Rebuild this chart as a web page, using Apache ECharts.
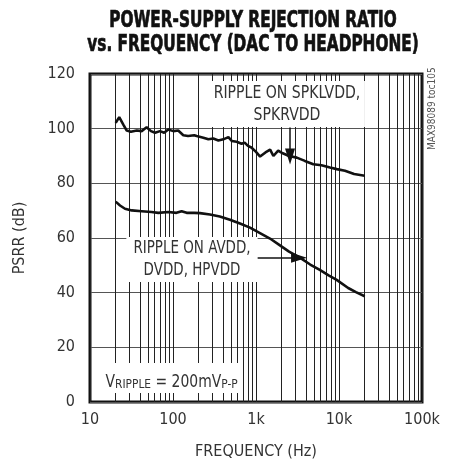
<!DOCTYPE html>
<html>
<head>
<meta charset="utf-8">
<script src="https://cdn.jsdelivr.net/npm/echarts@6/dist/echarts.min.js"></script>
<style>
  html, body { margin: 0; padding: 0; background: #fff; }
  #chart { width: 453px; height: 465px; }
</style>
</head>
<body>
<div id="chart"></div>
<script>
// PSRR vs frequency, two supply groups
const spkFreq = [20.4, 22.5, 25.2, 27.7, 31.1, 36.6, 41.9, 48.1, 54.3, 60.8, 69.7, 78.3, 87.7, 101, 115.6, 133, 152, 180, 193, 232, 267, 306, 352, 404, 465, 510, 585, 670, 730, 800, 880, 1000, 1120, 1300, 1480, 1620, 1850, 2100, 2500, 3100, 3880, 4900, 6150, 7790, 9400, 11800, 15200, 20400];
const spkPsrr = [102.1, 104.2, 101.5, 99.3, 98.9, 99.3, 99.1, 100.5, 99.1, 98.5, 99.1, 98.5, 99.7, 99.1, 99.3, 97.6, 97.3, 97.6, 97.3, 96.7, 96.1, 96.4, 95.7, 96.1, 96.9, 95.5, 95.2, 94.5, 94.9, 93.7, 93.1, 91.5, 89.8, 91.3, 92.3, 90.0, 92.0, 91.0, 90.0, 89.4, 88.2, 87.0, 86.6, 85.8, 85.2, 84.6, 83.4, 82.8];

const avddFreq = [20.4, 23, 26.4, 31.8, 42, 55, 66.5, 87.7, 110, 127, 146, 180, 211, 279, 366, 485, 641, 846, 1117, 1474, 1945, 2500, 3300, 4500, 5870, 7500, 9380, 12900, 16000, 20400];
const avddPsrr = [73.3, 71.9, 70.7, 70.1, 69.8, 69.5, 69.2, 69.5, 69.2, 69.8, 69.2, 69.2, 69.1, 68.6, 67.9, 66.7, 65.3, 63.8, 61.8, 59.8, 57.3, 55.0, 53.0, 50.3, 48.3, 46.3, 44.7, 41.7, 40.2, 38.7];

const xTickLabels = { 10: '10', 100: '100', 1000: '1k', 10000: '10k', 100000: '100k' };
const minorGridFreqs = [];
[10, 100, 1000, 10000].forEach(d => { for (let m = 2; m <= 9; m++) minorGridFreqs.push(d * m); });

const FONT = '"Liberation Sans Narrow", "DejaVu Sans Condensed", "Roboto Condensed", "Arial Narrow", sans-serif';
const chart = echarts.init(document.getElementById('chart'), null, { renderer: 'canvas' });

const zip = (xs, ys) => xs.map((x, i) => [x, ys[i]]);

const option = {
  animation: false,
  backgroundColor: '#fff',
  grid: { left: 90, right: 31, top: 74, bottom: 60, show: true, borderColor: '#111', borderWidth: 3, backgroundColor: 'transparent' },
  xAxis: {
    type: 'log', logBase: 10, min: 10, max: 100000,
    name: 'FREQUENCY (Hz)', nameLocation: 'middle', nameGap: 42,
    nameTextStyle: { fontFamily: FONT, fontSize: 16, color: '#333' },
    axisLine: { show: false }, axisTick: { show: false },
    axisLabel: { fontFamily: FONT, fontSize: 16, color: '#333', margin: 10, formatter: v => xTickLabels[Math.round(v)] || '' },
    splitLine: { show: true, lineStyle: { color: '#222', width: 1 } }
  },
  yAxis: {
    type: 'value', min: 0, max: 120, interval: 20,
    name: 'PSRR (dB)', nameLocation: 'middle', nameGap: 62, nameRotate: 90,
    nameTextStyle: { fontFamily: FONT, fontSize: 16, color: '#333' },
    axisLine: { show: false }, axisTick: { show: false },
    axisLabel: { fontFamily: FONT, fontSize: 16, color: '#333', margin: 15 },
    splitLine: { show: true, lineStyle: { color: '#555', width: 1 } }
  },
  graphic: [
    { type: 'text', x: 253, y: 9, scaleX: 0.74, z: 100,
      style: { text: 'POWER-SUPPLY REJECTION RATIO\nvs. FREQUENCY (DAC TO HEADPHONE)', textAlign: 'center', fontFamily: FONT, fontWeight: 'bold', fontSize: 23, lineHeight: 24, fill: '#111', stroke: '#111', lineWidth: 0.7 } },
    { type: 'text', x: 287, y: 81, scaleX: 0.92, z: 100,
      style: { text: 'RIPPLE ON SPKLVDD,\nSPKRVDD', textAlign: 'center', fontFamily: FONT, fontSize: 17, lineHeight: 22, fill: '#333', backgroundColor: '#fff', padding: [2, 5, 0, 5] } },
    { type: 'text', x: 192, y: 237, scaleX: 0.88, z: 100,
      style: { text: 'RIPPLE ON AVDD,\nDVDD, HPVDD', textAlign: 'center', fontFamily: FONT, fontSize: 17, lineHeight: 22, fill: '#333', backgroundColor: '#fff', padding: [1, 8, 0, 8] } },
    { type: 'text', x: 101, y: 363, scaleX: 0.91, z: 100,
      style: {
        text: '{v|V}{s|RIPPLE}{v| = 200mV}{s|P-P}',
        backgroundColor: '#fff', padding: [2, 5, 2, 5],
        rich: {
          v: { fontFamily: FONT, fontSize: 17, fill: '#333', verticalAlign: 'bottom', lineHeight: 26 },
          s: { fontFamily: FONT, fontSize: 13, fill: '#333', verticalAlign: 'bottom', lineHeight: 20 }
        }
      } },
    { type: 'text', x: 427, y: 150, rotation: Math.PI / 2, z: 100,
      style: { text: 'MAX98089 toc105', fontFamily: FONT, fontSize: 10, fill: '#555' } }
  ],
  series: [
    {
      // decade subdivisions 2..9
      type: 'line', data: [], z: 1, silent: true,
      markLine: {
        silent: true, symbol: ['none', 'none'], label: { show: false },
        lineStyle: { color: '#222', width: 1, type: 'solid' },
        data: minorGridFreqs.map(f => ({ xAxis: f }))
      }
    },
    {
      name: 'SPKLVDD, SPKRVDD', type: 'line', data: zip(spkFreq, spkPsrr), z: 10,
      showSymbol: false, smooth: false,
      lineStyle: { color: '#111', width: 2.6 },
      markLine: {
        silent: true, symbol: ['none', 'triangle'], symbolSize: [10, 16], label: { show: false },
        lineStyle: { color: '#111', width: 1.5, type: 'solid' },
        data: [[{ coord: [2570, 100.4] }, { coord: [2570, 89.8] }]]
      }
    },
    {
      name: 'AVDD, DVDD, HPVDD', type: 'line', data: zip(avddFreq, avddPsrr), z: 10,
      showSymbol: false, smooth: false,
      lineStyle: { color: '#111', width: 2.6 },
      markLine: {
        silent: true, symbol: ['none', 'triangle'], symbolSize: [10, 16], label: { show: false },
        lineStyle: { color: '#111', width: 1.5, type: 'solid' },
        data: [[{ coord: [972, 52.8] }, { coord: [3300, 52.8] }]]
      }
    }
  ]
};
chart.setOption(option);
</script>
</body>
</html>
